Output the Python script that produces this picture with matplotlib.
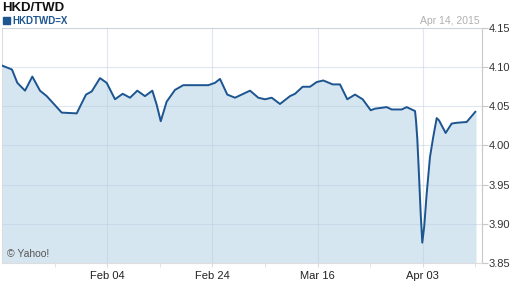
import matplotlib
matplotlib.use("Agg")
import matplotlib.pyplot as plt
from matplotlib.patches import Rectangle

plt.rcParams['font.family'] = ['Liberation Sans', 'DejaVu Sans']

# trading-day position (0 = Jan 15, 2015) and HKD/TWD rate
day_pos = [0, 1.04, 1.30, 2.01, 3.04, 4.01, 5.03, 5.93, 7.26, 7.92, 9.92, 10.59,
           11.16, 11.92, 13.02, 13.91, 15.02, 16.04, 17.02, 17.99, 19.01, 19.99,
           20.57, 21.11, 21.90, 23.01, 24.11, 27.44, 28.34, 29.00, 29.97, 31.00,
           33.00, 34.10, 34.99, 35.89, 36.99, 38.32, 38.99, 40.01, 40.99, 41.88,
           42.76, 44.01, 44.98, 45.95, 46.98, 48.00, 49.07, 49.64, 51.20, 51.86,
           53.20, 53.86, 54.97, 55.10, 55.27, 55.50, 55.73, 55.94, 56.20, 56.52,
           56.96, 57.40, 57.86, 58.17, 59.05, 59.85, 60.52, 61.85, 63.0]
rate = [4.102, 4.098, 4.097, 4.080, 4.070, 4.088, 4.070, 4.063, 4.049, 4.042, 4.041, 4.054,
        4.065, 4.069, 4.086, 4.080, 4.059, 4.066, 4.061, 4.070, 4.063, 4.070,
        4.052, 4.031, 4.056, 4.071, 4.077, 4.077, 4.080, 4.085, 4.065, 4.061,
        4.070, 4.061, 4.059, 4.061, 4.053, 4.063, 4.066, 4.075, 4.075, 4.081,
        4.083, 4.078, 4.078, 4.059, 4.065, 4.059, 4.045, 4.047, 4.049, 4.046,
        4.046, 4.049, 4.044, 4.032, 4.009, 3.962, 3.912, 3.876, 3.897, 3.938,
        3.985, 4.011, 4.035, 4.032, 4.016, 4.028, 4.029, 4.030, 4.043]

tick_pos = [14, 28, 42, 56]
tick_labels = ["Feb 04", "Feb 24", "Mar 16", "Apr 03"]
minor_pos = [7, 21, 35, 49, 63]
y_ticks = [3.85, 3.90, 3.95, 4.00, 4.05, 4.10, 4.15]

fig = plt.figure(figsize=(5.12, 2.88), dpi=100)
ax = fig.add_axes([0.0043, 0.0868, 0.9365, 0.816])

ax.fill_between(day_pos, rate, 3.85, color="#d6e6f1", zorder=1)
ax.plot(day_pos, rate, color="#1c5590", linewidth=1.4, zorder=3)

ax.set_xlim(0, 63.85)
ax.set_ylim(3.85, 4.15)

ax.set_xticks(tick_pos)
ax.set_xticklabels(tick_labels)
ax.set_xticks(minor_pos, minor=True)
ax.set_yticks(y_ticks)
ax.set_yticklabels(["%.2f" % v for v in y_ticks])

ax.yaxis.tick_right()
ax.tick_params(axis="y", direction="out", length=4, color="#c8c8c8",
               labelsize=8, labelcolor="#333333", pad=1)
ax.tick_params(axis="x", which="both", direction="out", length=3, color="#dddddd",
               labelsize=8, labelcolor="#222222", pad=3)

ax.grid(True, color="#b8cde0", alpha=0.45, linewidth=0.8, zorder=2)
ax.set_axisbelow(False)
for s in ax.spines.values():
    s.set_color("#dddddd")
    s.set_linewidth(0.8)
ax.spines["right"].set_color("#c8c8c8")

# header: title, series key, date
fig.text(0.004, 1 - 11 / 288, "HKD/TWD", fontsize=9.5, fontweight="bold",
         color="#111111", va="baseline", ha="left")
fig.patches.append(Rectangle((2.7 / 512, 1 - 24 / 288), 7.3 / 512, 7.3 / 288,
                             transform=fig.transFigure, color="#1c5590"))
fig.text(12 / 512, 1 - 20.5 / 288, "HKDTWD=X", fontsize=7, fontweight="bold",
         color="#1c5590", va="center", ha="left")
fig.text(0.937, 1 - 20.5 / 288, "Apr 14, 2015", fontsize=7.5, color="#b0b0b0",
         va="center", ha="right")
ax.text(0.01, 0.04, "\u00a9 Yahoo!", transform=ax.transAxes, fontsize=7.5,
        color="#555555", va="center", ha="left", zorder=4)

fig.savefig("out.png", dpi=100)
